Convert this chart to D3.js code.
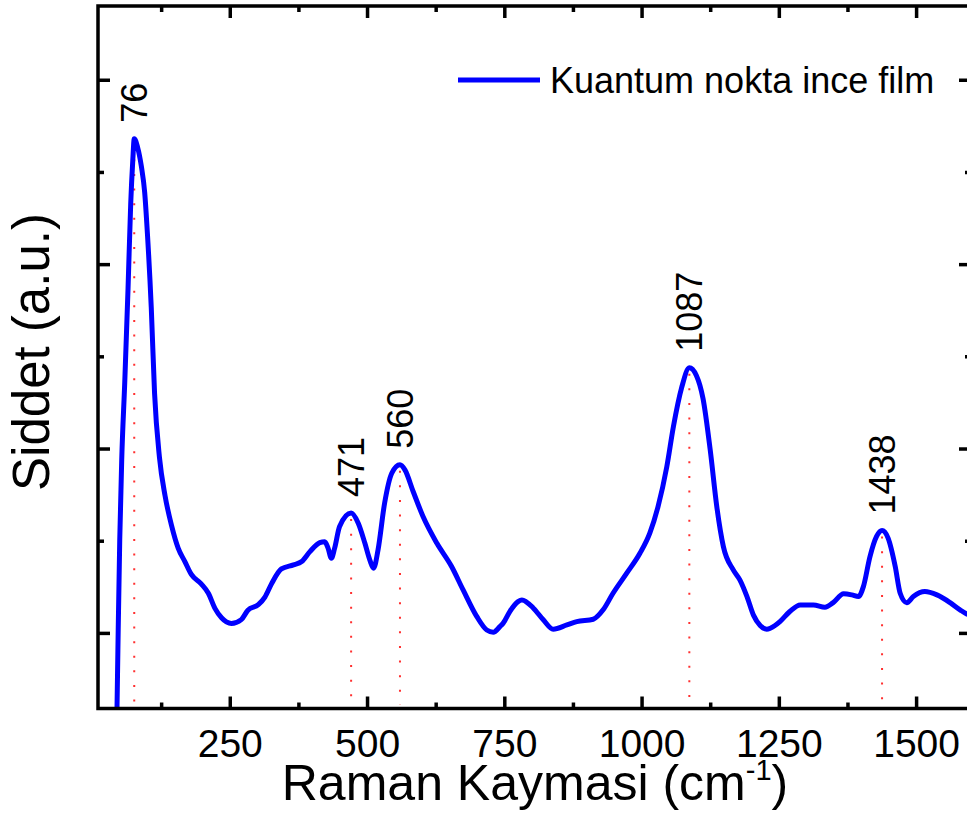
<!DOCTYPE html>
<html>
<head>
<meta charset="utf-8">
<script src="https://cdn.jsdelivr.net/npm/d3@7"></script>
<style>
  html, body { margin: 0; padding: 0; background: #fff; }
  svg { display: block; font-family: "Liberation Sans", Arial, sans-serif; }
</style>
</head>
<body>
<div id="chart"></div>
<script>
// Raman shift (cm-1) and intensity (a.u.)
const ramanShift = [42, 44.6, 46.8, 49.6, 53.2, 58.7, 64.7, 69.6, 73.3, 76, 82, 89, 95, 100, 107, 113, 122, 132,
  144, 156, 168, 180, 198, 211, 223, 235, 253, 271, 283, 302, 314, 326, 344, 366, 381, 396, 414, 423, 429, 435,
  441, 450, 471, 484, 496, 505, 512, 520, 532, 545, 560, 569, 584, 602, 627, 654, 675, 700, 718, 730, 742, 748,
  760, 775, 782, 803, 821, 839, 864, 882, 912, 930, 948, 973, 997, 1015, 1030, 1046, 1058, 1073, 1087, 1100,
  1112, 1125, 1137, 1149, 1167, 1179, 1192, 1204, 1216, 1228, 1243, 1252, 1270, 1289, 1313, 1334, 1349, 1368,
  1383, 1395, 1404, 1416, 1428, 1438, 1449, 1462, 1471, 1483, 1495, 1516, 1538, 1562, 1580, 1592, 1600];
const intensity = [-900, -412, 16, 505, 939, 1357, 1867, 2330, 2560, 2680, 2635, 2530, 2390, 2165, 1766, 1300, 950, 746,
  582, 460, 388, 317, 266, 215, 133, 82, 51, 72, 123, 153, 194, 266, 347, 369, 387, 441, 490, 495, 460, 405,
  460, 577, 650, 595, 487, 396, 351, 450, 704, 866, 912, 884, 767, 631, 487, 360, 233, 88, 16, 4, 34, 53,
  116, 170, 179, 134, 71, 20, 43, 61, 74, 125, 215, 324, 432, 541, 685, 902, 1119, 1330, 1438, 1395,
  1270, 993, 685, 468, 342, 288, 197, 95, 40, 20, 40, 61, 116, 152, 152, 139, 164, 212,
  206, 197, 251, 414, 523, 555, 514, 360, 215, 164, 197, 224, 206, 164, 125, 103, 95];

const peakShift     = [76, 471, 560, 1087, 1438];
const peakIntensity = [2680, 650, 912, 1438, 555];
const peakLabels    = ['76', '471', '560', '1087', '1438'];

const xMajorTicks = [250, 500, 750, 1000, 1250, 1500];
const xMinorTicks = [125, 375, 625, 875, 1125, 1375];
const yMajorTicks = [0, 1000, 2000, 3000];
const yMinorTicks = [500, 1500, 2500];

const seriesName = 'Kuantum nokta ince film';

const width  = 967;
const height = 840;

const svg = d3.select('#chart')
  .append('svg')
  .attr('width', width)
  .attr('height', height);

const x = d3.scaleLinear().domain([10, 1600]).range([98, 971]);
const y = d3.scaleLinear().domain([-410, 3400]).range([708.5, 6]);

const [x0, x1] = x.range();
const [yb, yt] = y.range();

svg.append('clipPath')
  .attr('id', 'plotClip')
  .append('rect')
  .attr('x', x0).attr('y', yt)
  .attr('width', x1 - x0).attr('height', yb - yt);

// red dotted markers under the peaks
svg.selectAll('.peak-line')
  .data(peakShift)
  .enter().append('line')
  .attr('class', 'peak-line')
  .attr('x1', d => x(d)).attr('x2', d => x(d))
  .attr('y1', (d, i) => y(peakIntensity[i]) + 6)
  .attr('y2', yb - 4)
  .attr('stroke', '#ff3030')
  .attr('stroke-width', 2)
  .attr('stroke-dasharray', '2,12.6');

const points = ramanShift.map((d, i) => [d, intensity[i]]);

svg.append('path')
  .datum(points)
  .attr('clip-path', 'url(#plotClip)')
  .attr('fill', 'none')
  .attr('stroke', '#0000ff')
  .attr('stroke-width', 5)
  .attr('stroke-linejoin', 'round')
  .attr('d', d3.line().x(d => x(d[0])).y(d => y(d[1])).curve(d3.curveMonotoneX));

svg.selectAll('.peak-label')
  .data(peakShift)
  .enter().append('text')
  .attr('class', 'peak-label')
  .attr('transform', (d, i) => `translate(${x(d)},${y(peakIntensity[i]) - 16}) rotate(-90)`)
  .attr('dy', '0.35em')
  .attr('font-size', '36px')
  .attr('fill', '#000')
  .text((d, i) => peakLabels[i]);

// axes: ticks point inward on all four sides
function styleAxis(g) {
  g.select('.domain').remove();
  g.selectAll('.tick line').attr('stroke', '#000').attr('stroke-width', 3.5);
  g.selectAll('.tick text').attr('font-size', '39px').attr('fill', '#000')
    .attr('font-family', '"Liberation Sans", Arial, sans-serif');
}

svg.append('g')
  .attr('transform', `translate(0,${yb})`)
  .call(d3.axisBottom(x).tickValues(xMajorTicks).tickSize(-12).tickPadding(21).tickFormat(d3.format('d')))
  .call(styleAxis);
svg.append('g')
  .attr('transform', `translate(0,${yb})`)
  .call(d3.axisBottom(x).tickValues(xMinorTicks).tickSize(-6).tickFormat(''))
  .call(styleAxis);
svg.append('g')
  .attr('transform', `translate(0,${yt})`)
  .call(d3.axisTop(x).tickValues(xMajorTicks).tickSize(-12).tickFormat(''))
  .call(styleAxis);
svg.append('g')
  .attr('transform', `translate(0,${yt})`)
  .call(d3.axisTop(x).tickValues(xMinorTicks).tickSize(-6).tickFormat(''))
  .call(styleAxis);

svg.append('g')
  .attr('transform', `translate(${x0},0)`)
  .call(d3.axisLeft(y).tickValues(yMajorTicks).tickSize(-12).tickFormat(''))
  .call(styleAxis);
svg.append('g')
  .attr('transform', `translate(${x0},0)`)
  .call(d3.axisLeft(y).tickValues(yMinorTicks).tickSize(-6).tickFormat(''))
  .call(styleAxis);
svg.append('g')
  .attr('transform', `translate(${x1},0)`)
  .call(d3.axisRight(y).tickValues(yMajorTicks).tickSize(-12).tickFormat(''))
  .call(styleAxis);
svg.append('g')
  .attr('transform', `translate(${x1},0)`)
  .call(d3.axisRight(y).tickValues(yMinorTicks).tickSize(-6).tickFormat(''))
  .call(styleAxis);

svg.append('rect')
  .attr('x', x0).attr('y', yt)
  .attr('width', x1 - x0).attr('height', yb - yt)
  .attr('fill', 'none')
  .attr('stroke', '#000')
  .attr('stroke-width', 3.5);

// legend
svg.append('line')
  .attr('x1', 458).attr('x2', 540)
  .attr('y1', 80).attr('y2', 80)
  .attr('stroke', '#0000ff')
  .attr('stroke-width', 5);
svg.append('text')
  .attr('x', 550).attr('y', 80)
  .attr('dy', '0.35em')
  .attr('font-size', '36px')
  .attr('fill', '#000')
  .text(seriesName);

// axis titles
const xTitle = svg.append('text')
  .attr('x', 535).attr('y', 800)
  .attr('text-anchor', 'middle')
  .attr('font-size', '50px')
  .attr('fill', '#000');
xTitle.append('tspan').text('Raman Kaymasi (cm');
xTitle.append('tspan').attr('dy', -20).attr('font-size', '29px').text('-1');
xTitle.append('tspan').attr('dy', 20).text(')');

svg.append('text')
  .attr('transform', 'translate(49,352) rotate(-90)')
  .attr('text-anchor', 'middle')
  .attr('font-size', '51px')
  .attr('fill', '#000')
  .text('Siddet (a.u.)');
</script>
</body>
</html>
